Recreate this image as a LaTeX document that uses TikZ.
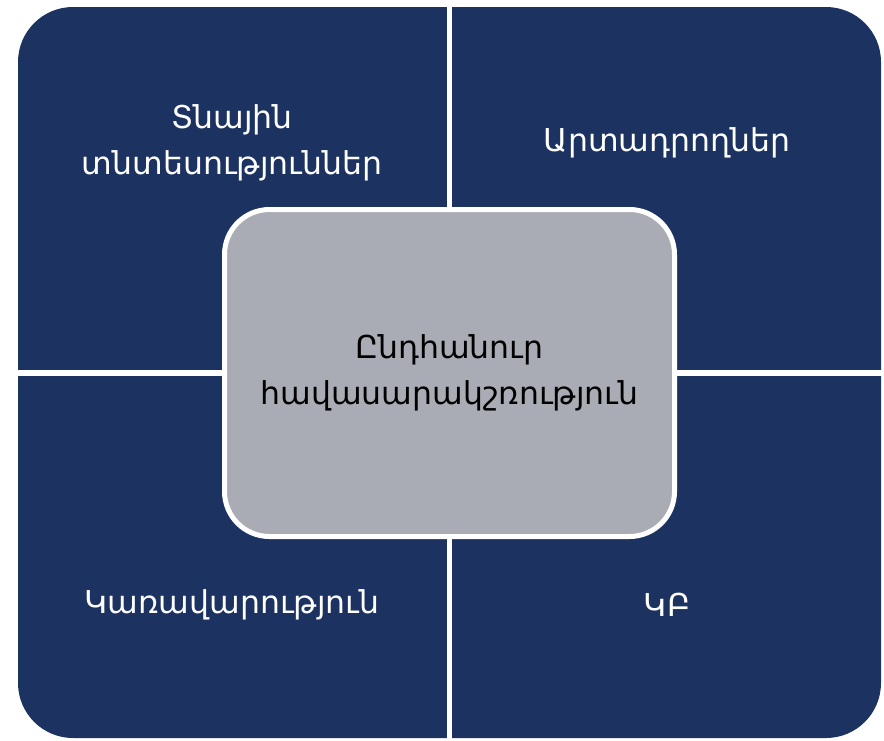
\documentclass[tikz,border=0pt]{standalone}
\usepackage{fontspec}
\setmainfont{DejaVu Sans}
\definecolor{navy}{HTML}{1C3260}
\definecolor{panelgray}{HTML}{A9ACB5}
\tikzset{
  quadlabel/.style={text=white, align=center, font=\fontsize{31.5}{46}\selectfont},
  centerbox/.style={fill=panelgray, draw=white, line width=5pt, rounded corners=45pt,
    minimum width=450pt, minimum height=327pt, align=center, text=black,
    font=\fontsize{31.5}{46}\selectfont}
}
\begin{document}
\begin{tikzpicture}[x=1pt,y=-1pt]
\useasboundingbox (0,0) rectangle (884,740);
% outer panel
\fill[navy, rounded corners=55pt] (18,7) rectangle (881,738);
% white gaps between quadrants
\fill[white] (447,0) rectangle (452,740);
\fill[white] (0,370) rectangle (884,376);
% labels
\node[quadlabel] (hh) at (232,143) {Տնային\\տնտեսություններ};
\node[quadlabel] (pr) at (667,143) {Արտադրողներ};
\node[quadlabel] (gv) at (232,605) {Կառավարություն};
\node[quadlabel] (cb) at (667,605) {ԿԲ};
\node[centerbox] (eq) at (449.5,373) {Ընդհանուր\\հավասարակշռություն};
\end{tikzpicture}
\end{document}
